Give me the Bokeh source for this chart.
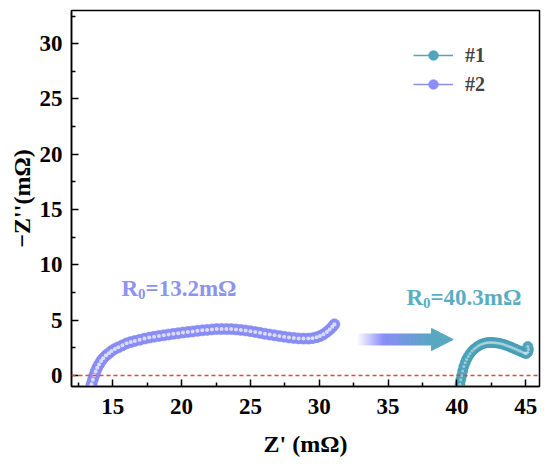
from bokeh.plotting import figure
from bokeh.models import FixedTicker, Span, Legend, LegendItem, Label
from bokeh.embed import file_html
from bokeh.resources import INLINE

# ---------------- data ----------------
s2_x = [13.45, 13.55, 13.65, 13.75, 13.87, 14.0, 14.15, 14.3, 14.5, 14.7, 14.9, 15.15, 15.4, 15.7,
        16.0, 16.3, 16.6, 16.95, 17.3, 17.65, 18.0, 18.35, 18.7, 19.05, 19.4, 19.75, 20.1, 20.45,
        20.8, 21.15, 21.5, 21.85, 22.2, 22.55, 22.9, 23.25, 23.6, 23.95, 24.3, 24.65, 25.0, 25.35,
        25.7, 26.05, 26.4, 26.75, 27.1, 27.45, 27.8, 28.15, 28.5, 28.85, 29.2, 29.5, 29.8, 30.05,
        30.3, 30.55, 30.75, 30.95, 31.1]
s2_y = [-0.8, -0.4, 0.0, 0.35, 0.7, 1.0, 1.3, 1.55, 1.8, 2.0, 2.2, 2.4, 2.55, 2.72,
        2.9, 3.02, 3.12, 3.22, 3.33, 3.42, 3.5, 3.57, 3.63, 3.7, 3.76, 3.82, 3.88, 3.93,
        3.98, 4.03, 4.08, 4.12, 4.16, 4.19, 4.2, 4.2, 4.19, 4.16, 4.12, 4.07, 4.0, 3.93,
        3.85, 3.77, 3.7, 3.63, 3.56, 3.5, 3.44, 3.39, 3.35, 3.33, 3.33, 3.37, 3.45, 3.56,
        3.72, 3.93, 4.15, 4.4, 4.62]

s1_x = [40.22, 40.28, 40.35, 40.42, 40.5, 40.6, 40.7, 40.82, 40.95, 41.1, 41.25, 41.4, 41.55,
        41.7, 41.85, 42.0, 42.15, 42.3, 42.45, 42.6, 42.75, 42.9, 43.05, 43.2, 43.35, 43.5,
        43.65, 43.8, 43.95, 44.1, 44.25, 44.4, 44.55, 44.7, 44.85, 44.95, 45.05, 45.15, 45.2,
        45.15]
s1_y = [-0.8, -0.4, 0.0, 0.4, 0.8, 1.15, 1.45, 1.72, 1.97, 2.2, 2.38, 2.53, 2.66,
        2.77, 2.85, 2.91, 2.95, 2.97, 2.98, 2.97, 2.96, 2.94, 2.91, 2.87, 2.82, 2.76,
        2.69, 2.62, 2.54, 2.46, 2.38, 2.3, 2.22, 2.14, 2.06, 2.0, 1.98, 2.1, 2.35,
        2.62]

x_ticks = [15, 20, 25, 30, 35, 40, 45]
y_ticks = [0, 5, 10, 15, 20, 25, 30]
x_minor = [12.5, 17.5, 22.5, 27.5, 32.5, 37.5, 42.5]
y_minor = [2.5, 7.5, 12.5, 17.5, 22.5, 27.5, 32.5]

series_labels = ["#1", "#2"]
r0_texts = [("13.2", 15.64, 7.84), ("40.3", 36.33, 7.03)]

# arrow (data coords)
ARROW_X0, ARROW_HEAD_BASE, ARROW_TIP, ARROW_Y = 32.83, 38.15, 39.73, 3.25
ARROW_BODY_HALF, ARROW_HEAD_HALF = 0.5, 1.0

PURPLE = "#8a8ef6"
TEAL = "#4fa6bc"
PURPLE_TXT = "#8c93f2"
TEAL_TXT = "#59aec5"
FONT = "Liberation Serif"
NAN = float("nan")

p = figure(width=550, height=470, x_range=(12, 46), y_range=(-1, 33),
           output_backend="svg", toolbar_location=None,
           min_border_left=71, min_border_right=11, min_border_top=10, min_border_bottom=84)
p.xgrid.visible = False
p.ygrid.visible = False
p.outline_line_color = "black"
p.outline_line_width = 1.5
p.background_fill_color = "white"

p.xaxis.ticker = FixedTicker(ticks=x_ticks, minor_ticks=x_minor)
p.yaxis.ticker = FixedTicker(ticks=y_ticks, minor_ticks=y_minor)
for ax in (p.xaxis[0], p.yaxis[0]):
    ax.axis_line_width = 1.5
    ax.axis_line_color = "black"
    ax.major_tick_in = 7
    ax.major_tick_out = 0
    ax.minor_tick_in = 4
    ax.minor_tick_out = 0
    ax.major_tick_line_width = 1.5
    ax.minor_tick_line_width = 1.5
    ax.major_label_text_font = FONT
    ax.major_label_text_font_style = "bold"
    ax.major_label_text_font_size = "23px"
    ax.major_label_text_color = "black"
    ax.axis_label_text_font = FONT
    ax.axis_label_text_font_style = "bold"
    ax.axis_label_text_font_size = "24px"
    ax.axis_label_text_color = "black"
p.xaxis.axis_label = "Z' (mΩ)"
p.yaxis.axis_label = "\u2212Z''(mΩ)"
p.xaxis.major_label_standoff = 12
p.xaxis.axis_label_standoff = 14
p.yaxis.major_label_standoff = 9
p.yaxis.axis_label_standoff = 2

# zero line
p.add_layout(Span(location=0, dimension="width", line_color="#e2453f",
                  line_dash="4 3", line_width=1.5))

# series
s2 = p.scatter(s2_x, s2_y, size=11, fill_color=PURPLE, line_color="#8085f2", line_width=0.6)
h2 = p.scatter(s2_x, s2_y, size=4, fill_color="white", fill_alpha=0.7, line_color=None)
s1 = p.scatter(s1_x, s1_y, size=10, fill_color=TEAL, line_color="#3f96ad", line_width=0.6)
h1 = p.scatter(s1_x, s1_y, size=3, fill_color="white", fill_alpha=0.45, line_color=None)

# legend proxy lines (no visible data)
l1 = p.line(x=[NAN], y=[NAN], line_color=TEAL, line_width=1.6)
l2 = p.line(x=[NAN], y=[NAN], line_color=PURPLE, line_width=1.6)

legend = Legend(items=[LegendItem(label=series_labels[0], renderers=[l1, s1]),
                       LegendItem(label=series_labels[1], renderers=[l2, s2])],
                location=(342, 290), border_line_color=None, background_fill_alpha=0,
                label_text_font=FONT, label_text_font_style="bold",
                label_text_font_size="20px", glyph_width=40, glyph_height=24,
                label_height=24, spacing=5, padding=0, margin=0, label_standoff=12)
p.add_layout(legend)

# gradient arrow
def lerp(c1, c2, t):
    return tuple(int(round(a + (b - a) * t)) for a, b in zip(c1, c2))

c_start, c_mid, c_end = (250, 250, 255), (138, 142, 246), (88, 166, 194)
n = 48
w = (ARROW_HEAD_BASE - ARROW_X0) / n
lefts, rights, cols = [], [], []
for i in range(n):
    t = (i + 0.5) / n
    if t < 0.35:
        c = lerp(c_start, c_mid, t / 0.35)
    else:
        c = lerp(c_mid, c_end, (t - 0.35) / 0.65)
    lefts.append(ARROW_X0 + i * w)
    rights.append(ARROW_X0 + (i + 1) * w)
    cols.append("#%02x%02x%02x" % c)
p.quad(left=lefts, right=rights, bottom=ARROW_Y - ARROW_BODY_HALF, top=ARROW_Y + ARROW_BODY_HALF,
       fill_color=cols, line_color=cols, line_width=1)
p.patch([ARROW_HEAD_BASE, ARROW_TIP, ARROW_HEAD_BASE],
        [ARROW_Y - ARROW_HEAD_HALF, ARROW_Y, ARROW_Y + ARROW_HEAD_HALF],
        fill_color="#58a8c1", line_color="#58a8c1")

# R0 labels
for (val, lx, ly), col in zip(r0_texts, [PURPLE_TXT, TEAL_TXT]):
    common = dict(text_font=FONT, text_font_style="bold", text_color=col,
                  text_baseline="alphabetic", text_align="left")
    p.add_layout(Label(x=lx, y=ly, text="R", text_font_size="23px", **common))
    p.add_layout(Label(x=lx, y=ly, x_offset=16.5, y_offset=-5, text="0",
                       text_font_size="15px", **common))
    p.add_layout(Label(x=lx, y=ly, x_offset=24, text="=" + val + "mΩ",
                       text_font_size="23px", **common))

open("out.html", "w").write(file_html(p, INLINE))
